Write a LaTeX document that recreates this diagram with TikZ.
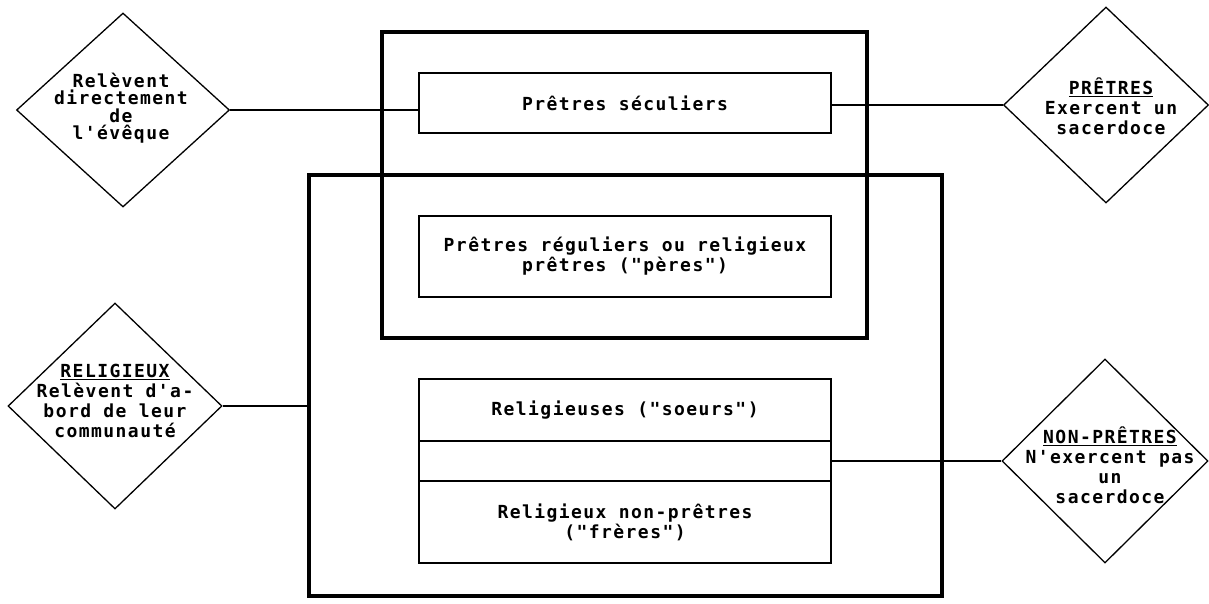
\documentclass[tikz,border=0pt]{standalone}
\usepackage{fontspec}
\usetikzlibrary{shapes.geometric}
\newfontfamily\dm[LetterSpace=8]{DejaVu Sans Mono}
\begin{document}
\begin{tikzpicture}[x=1pt,y=-1pt,
  thickbox/.style={draw,line width=4.5pt,rectangle,inner sep=0pt},
  thinbox/.style={draw,line width=1.5pt,rectangle,inner sep=0pt,
    font=\dm\bfseries\fontsize{18}{20}\selectfont,align=center},
  dia/.style={draw,line width=1.3pt,diamond,inner sep=0pt},
  txt/.style={font=\dm\bfseries\fontsize{18}{20}\selectfont,align=center,inner sep=0pt},
  conn/.style={line width=1.3pt}]
\useasboundingbox[fill=white] (0,0) rectangle (1209,603);
% big frames
\node[thickbox,minimum width=633pt,minimum height=421pt] (relig) at (625.5,385.5) {};
\node[thickbox,minimum width=485pt,minimum height=306pt] (pretres) at (624.5,185) {};
% inner boxes
\node[thinbox,minimum width=412pt,minimum height=60pt] (sec) at (625,103) {Prêtres séculiers};
\node[thinbox,minimum width=412pt,minimum height=81pt] (reg) at (625,256.5) {Prêtres réguliers ou religieux\\prêtres ("pères")};
\node[thinbox,minimum width=412pt,minimum height=62pt] (soeurs) at (625,410) {Religieuses ("soeurs")};
\node[thinbox,minimum width=412pt,minimum height=40pt] (mid) at (625,461) {};
\node[thinbox,minimum width=412pt,minimum height=82pt] (freres) at (625,522) {Religieux non-prêtres\\("frères")};
% diamonds
\node[dia,minimum width=213pt,minimum height=194pt] (d1) at (123,110) {};
\node[dia,minimum width=205pt,minimum height=196pt] (d2) at (1106,105) {};
\node[dia,minimum width=214pt,minimum height=206pt] (d3) at (115,406) {};
\node[dia,minimum width=206pt,minimum height=204pt] (d4) at (1105,461) {};
% diamond texts
\node[txt,font=\dm\bfseries\fontsize{18}{17.5}\selectfont] (t1) at (121,108) {Relèvent\\directement\\de\\l'évêque};
\node[txt] (t2) at (1111,106) {\underline{PRÊTRES}\\Exercent un\\sacerdoce};
\node[txt] (t3) at (115,401) {\underline{RELIGIEUX}\\Relèvent d'a-\\bord de leur\\communauté};
\node[txt] (t4) at (1110,465) {\underline{NON-PRÊTRES}\\N'exercent pas\\un\\sacerdoce};
% connectors
\draw[conn] (d1.east) -- (d1.east -| sec.west);
\draw[conn] (d2.west -| sec.east) -- (d2.west);
\draw[conn] (d3.east) -- (d3.east -| relig.west);
\draw[conn] (mid.east) -- (d4.west);
\end{tikzpicture}
\end{document}
